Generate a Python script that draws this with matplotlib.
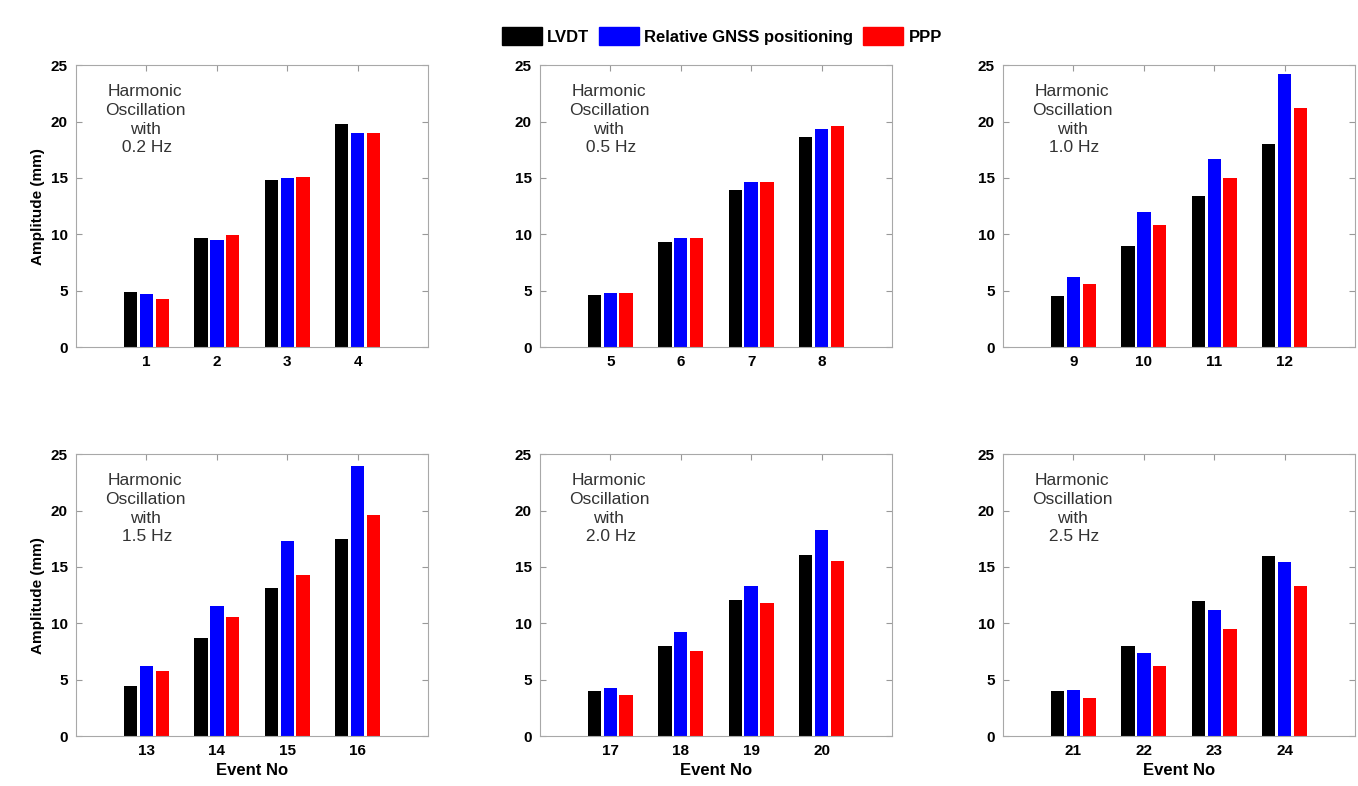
"""Harmonic oscillation amplitudes: LVDT vs relative GNSS vs PPP"""
import numpy as np
from matplotlib import pyplot as plt
from matplotlib.patches import Patch

plt.rcParams['font.family'] = ['Liberation Sans', 'DejaVu Sans']

frequencies = ["0.2 Hz", "0.5 Hz", "1.0 Hz", "1.5 Hz", "2.0 Hz", "2.5 Hz"]
events = [[1, 2, 3, 4], [5, 6, 7, 8], [9, 10, 11, 12],
          [13, 14, 15, 16], [17, 18, 19, 20], [21, 22, 23, 24]]

lvdt = [[4.9, 9.7, 14.8, 19.8],
        [4.6, 9.3, 13.9, 18.6],
        [4.5, 9.0, 13.4, 18.0],
        [4.4, 8.7, 13.1, 17.5],
        [4.0, 8.0, 12.1, 16.1],
        [4.0, 8.0, 12.0, 16.0]]
gnss = [[4.7, 9.5, 15.0, 19.0],
        [4.8, 9.7, 14.6, 19.3],
        [6.2, 12.0, 16.7, 24.2],
        [6.2, 11.5, 17.3, 24.0],
        [4.3, 9.2, 13.3, 18.3],
        [4.1, 7.4, 11.2, 15.4]]
ppp = [[4.3, 9.9, 15.1, 19.0],
       [4.8, 9.7, 14.6, 19.6],
       [5.6, 10.8, 15.0, 21.2],
       [5.8, 10.6, 14.3, 19.6],
       [3.6, 7.5, 11.8, 15.5],
       [3.4, 6.2, 9.5, 13.3]]

series_names = ["LVDT", "Relative GNSS positioning", "PPP"]
colors = ["#000000", "#0000ff", "#ff0000"]

fig = plt.figure(figsize=(13.58, 7.86), dpi=100)

lefts = [0.056, 0.3976, 0.7386]
bottoms = [0.5585, 0.0636]
width, height = 0.2592, 0.3585
bar_w = 0.19
offset = 0.225

for k in range(6):
    row, col = divmod(k, 3)
    ax = fig.add_axes([lefts[col], bottoms[row], width, height])
    ax.set_axisbelow(True)
    pos = np.arange(1, 5)
    for s, data in enumerate([lvdt, gnss, ppp]):
        ax.bar(pos + (s - 1) * offset, data[k], width=bar_w, color=colors[s])
    ax.set_xlim(0, 5)
    ax.set_ylim(0, 25)
    ax.set_yticks(range(0, 26, 5))
    ax.set_xticks(pos)
    ax.set_xticklabels([str(e) for e in events[k]])
    ax.tick_params(direction='in', length=4, color='#999999', top=True, right=True,
                   labelsize=11, pad=6)
    for lab in ax.get_xticklabels() + ax.get_yticklabels():
        lab.set_fontweight('bold')
    for sp in ax.spines.values():
        sp.set_color('#a8a8a8')
        sp.set_zorder(3)
    ax.text(0.98, 23.3, "Harmonic\nOscillation\nwith\n " + frequencies[k],
            ha='center', va='top', fontsize=12.5, linespacing=1.3, color='#333333')
    if col == 0:
        ax.set_ylabel("Amplitude (mm)", fontsize=11, fontweight='bold')
    if row == 1:
        ax.set_xlabel("Event No", fontsize=12, fontweight='bold', labelpad=3)

handles = [Patch(color=c, label=n) for c, n in zip(colors, series_names)]
fig.legend(handles=handles, loc='center', bbox_to_anchor=(722 / 1358, 1 - 36 / 786),
           ncol=3, frameon=False, handlelength=2.4, handleheight=1.2,
           handletextpad=0.3, columnspacing=0.6,
           prop={'weight': 'bold', 'size': 12})

fig.savefig("out.png", dpi=100)
